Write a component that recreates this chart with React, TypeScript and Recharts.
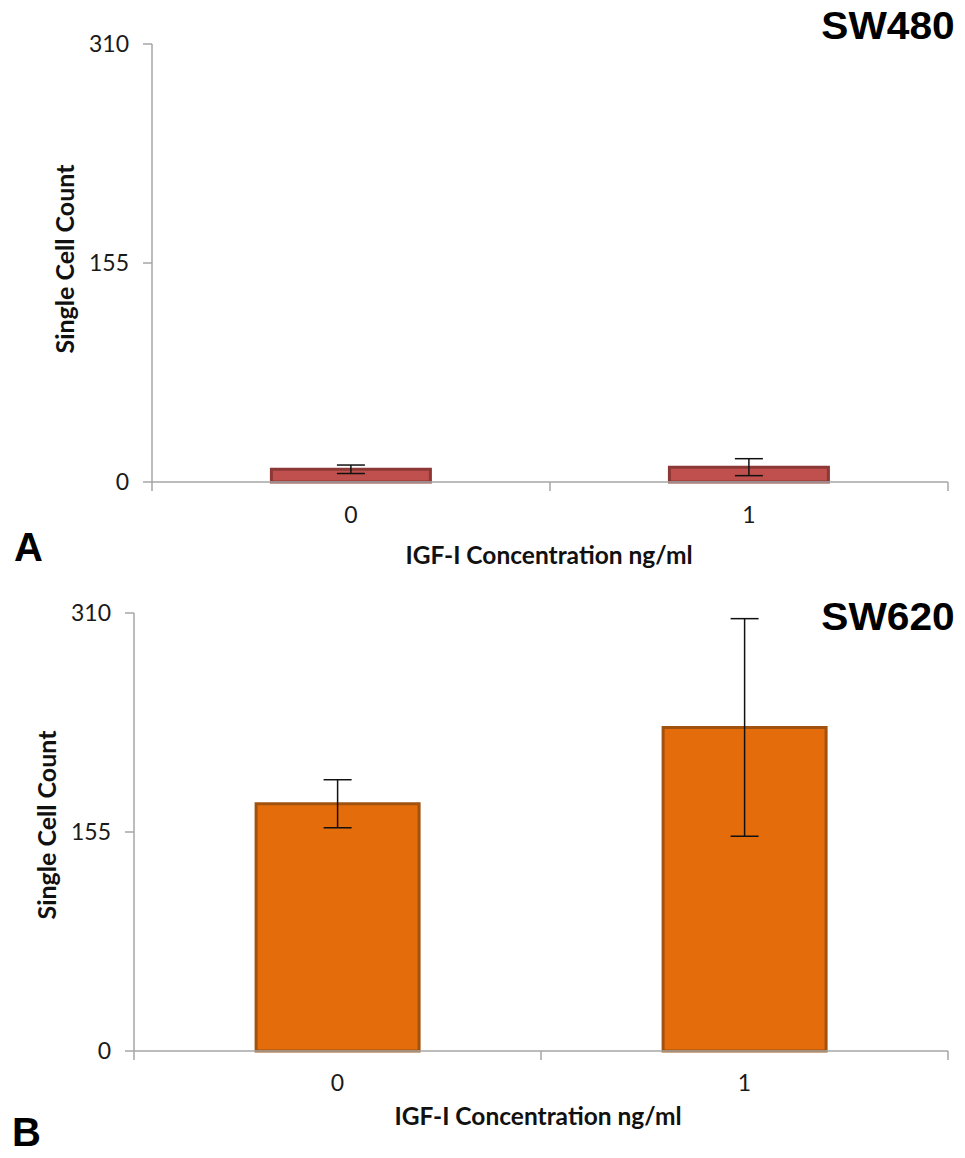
import React from "react";
import { BarChart, Bar, XAxis, YAxis, ErrorBar } from "recharts";

// IGF-I concentration (ng/ml) categories
const concentrations = ["0", "1"];
// SW480 single cell counts (mean, error)
const sw480Counts = [9, 10.5];
const sw480Errors = [3, 6];
// SW620 single cell counts (mean, error)
const sw620Counts = [175, 229];
const sw620Errors = [17, 77];
const yTicks = [0, 155, 310];

const LABEL_FONT = 'Lato, "Open Sans", sans-serif';
const TITLE_FONT = '"Liberation Sans", Arial, sans-serif';
const AXIS_GRAY = "#a6a6a6";
const CHART_W = 965;
const RIGHT_PAD = 17;
const PLOT_H = 438;

/** Category tick: label at the band centre, tick marks on the band edges. */
function CategoryTick(props: any) {
  const { x, y, payload, index, halfBand, count, labelOffset } = props;
  return (
    <g>
      <line x1={x - halfBand} y1={y} x2={x - halfBand} y2={y + 9} stroke={AXIS_GRAY} strokeWidth={1.5} />
      {index === count - 1 && (
        <line x1={x + halfBand} y1={y} x2={x + halfBand} y2={y + 9} stroke={AXIS_GRAY} strokeWidth={1.5} />
      )}
      <text
        x={x}
        y={y + labelOffset}
        textAnchor="middle"
        fontSize={23}
        fontFamily={LABEL_FONT}
        fill="#1a1a1a"
      >
        {payload.value}
      </text>
    </g>
  );
}

interface PanelProps {
  counts: number[];
  errors: number[];
  fill: string;
  stroke: string;
  yAxisWidth: number;
  top: number;
  labelOffset: number;
}

function Panel({ counts, errors, fill, stroke, yAxisWidth, top, labelOffset }: PanelProps) {
  const data = concentrations.map((c, i) => ({
    conc: c,
    count: counts[i],
    err: errors[i],
  }));
  const halfBand = (CHART_W - yAxisWidth - RIGHT_PAD) / concentrations.length / 2;
  return (
    <BarChart
      width={CHART_W}
      height={top + PLOT_H + 60}
      data={data}
      margin={{ top, right: RIGHT_PAD, left: 0, bottom: 0 }}
      barCategoryGap="30%"
    >
      <XAxis
        dataKey="conc"
        stroke={AXIS_GRAY}
        strokeWidth={1.5}
        tickLine={false}
        tickSize={0}
        tickMargin={0}
        height={60}
        interval={0}
        tick={(p: any) => (
          <CategoryTick
            {...p}
            halfBand={halfBand}
            count={concentrations.length}
            labelOffset={labelOffset}
          />
        )}
      />
      <YAxis
        width={yAxisWidth}
        domain={[0, 310]}
        ticks={yTicks}
        interval={0}
        tickSize={9}
        tickMargin={14}
        stroke={AXIS_GRAY}
        strokeWidth={1.5}
        tick={{ fontSize: 23, fill: "#1a1a1a", fontFamily: LABEL_FONT }}
      />
      <Bar
        dataKey="count"
        fill={fill}
        stroke={stroke}
        strokeWidth={3}
        isAnimationActive={false}
      >
        <ErrorBar dataKey="err" width={14} stroke="#111" strokeWidth={1.5} />
      </Bar>
    </BarChart>
  );
}

const labelBase: React.CSSProperties = {
  position: "absolute",
  fontFamily: LABEL_FONT,
  fontWeight: "bold",
  color: "#111",
  whiteSpace: "nowrap",
  lineHeight: 1,
};

const titleBase: React.CSSProperties = {
  position: "absolute",
  fontFamily: TITLE_FONT,
  fontWeight: "bold",
  fontSize: 38,
  color: "#000",
  lineHeight: 1,
  transform: "scaleX(1.07)",
  transformOrigin: "right top",
};

const letterBase: React.CSSProperties = {
  position: "absolute",
  fontFamily: TITLE_FONT,
  fontWeight: "bold",
  fontSize: 40,
  color: "#000",
  lineHeight: 0.8,
};

export default function App() {
  return (
    <div
      style={{
        position: "absolute",
        left: 0,
        top: 0,
        width: 965,
        height: 1158,
        background: "#fff",
        overflow: "hidden",
      }}
    >
      <div style={{ position: "absolute", left: 0, top: 0 }}>
        <Panel
          counts={sw480Counts}
          errors={sw480Errors}
          fill="#c0504d"
          stroke="#8c3836"
          yAxisWidth={152}
          top={44}
          labelOffset={41}
        />
      </div>
      <div style={{ position: "absolute", left: 0, top: 570 }}>
        <Panel
          counts={sw620Counts}
          errors={sw620Errors}
          fill="#e46c0a"
          stroke="#a0520e"
          yAxisWidth={134}
          top={43}
          labelOffset={40}
        />
      </div>

      <div style={{ ...titleBase, right: 10, top: 7 }}>SW480</div>
      <div style={{ ...titleBase, right: 10, top: 598 }}>SW620</div>
      <div style={{ ...letterBase, left: 14, top: 531 }}>A</div>
      <div style={{ ...letterBase, left: 12, top: 1116 }}>B</div>

      <div
        style={{
          ...labelBase,
          fontSize: 25,
          left: 64,
          top: 259,
          transform: "translate(-50%, -50%) rotate(-90deg)",
        }}
      >
        Single Cell Count
      </div>
      <div
        style={{
          ...labelBase,
          fontSize: 25,
          left: 46,
          top: 825,
          transform: "translate(-50%, -50%) rotate(-90deg)",
        }}
      >
        Single Cell Count
      </div>
      <div
        style={{
          ...labelBase,
          fontSize: 24.5,
          left: 549,
          top: 555,
          transform: "translate(-50%, -50%)",
        }}
      >
        IGF-I Concentration ng/ml
      </div>
      <div
        style={{
          ...labelBase,
          fontSize: 24.5,
          left: 538,
          top: 1116,
          transform: "translate(-50%, -50%)",
        }}
      >
        IGF-I Concentration ng/ml
      </div>
    </div>
  );
}
